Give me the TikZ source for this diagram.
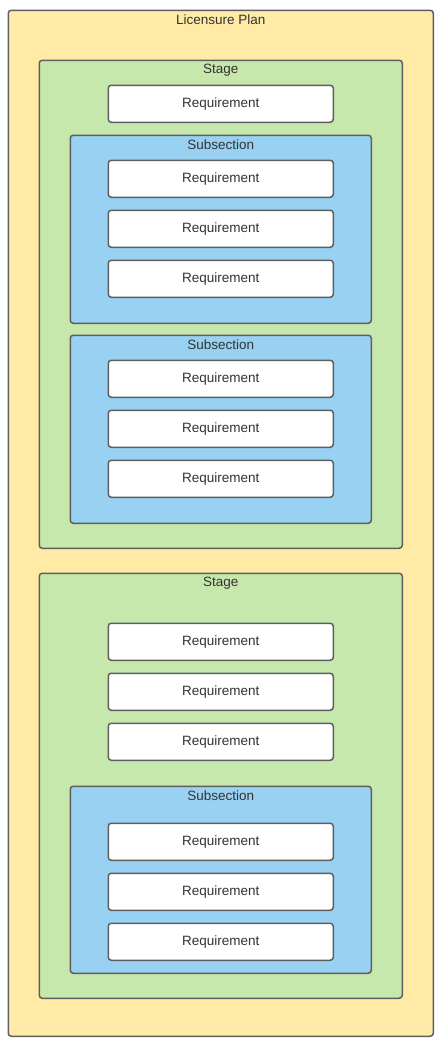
\documentclass[tikz,border=0pt]{standalone}
\usepackage{fontspec}
\setmainfont{Liberation Sans}
\definecolor{planfill}{HTML}{FFEBA6}
\definecolor{stagefill}{HTML}{C7E8AC}
\definecolor{subfill}{HTML}{99D1F2}
\definecolor{edge}{HTML}{5E5E5E}
\definecolor{txt}{HTML}{333333}
\tikzset{
  box/.style={draw=edge, line width=1.5pt, rounded corners=3pt, anchor=north west, inner sep=0pt},
  planbox/.style={box, fill=planfill},
  stagebox/.style={box, fill=stagefill},
  subbox/.style={box, fill=subfill},
  reqbox/.style={box, fill=white, minimum width=225pt, minimum height=37pt, text=txt, font=\fontsize{13.5}{16}\selectfont},
  lbl/.style={text=txt, font=\fontsize{13.5}{16}\selectfont, inner sep=0pt, anchor=center}
}
\begin{document}
\begin{tikzpicture}[x=1pt,y=-1pt]
\useasboundingbox (0,0) rectangle (439,1045);
% plan
\node[planbox, minimum width=425pt, minimum height=1026pt] (plan) at (7.5,9.5) {};
\node[lbl] (planlbl) at ([yshift=-10pt]plan.north) {Licensure Plan};
% stage 1
\node[stagebox, minimum width=363pt, minimum height=488pt] (st1) at (38.5,59.5) {};
\node[lbl] (st1lbl) at ([yshift=-10.5pt]st1.north) {Stage};
\node[reqbox] (r1) at (107.5,84.5) {Requirement};
\node[subbox, minimum width=301pt, minimum height=188pt] (sub1) at (69.5,134.5) {};
\node[lbl] (sub1lbl) at ([yshift=-10pt]sub1.north) {Subsection};
\node[reqbox] (r2) at (107.5,159.5) {Requirement};
\node[reqbox] (r3) at (107.5,209.5) {Requirement};
\node[reqbox] (r4) at (107.5,259.5) {Requirement};
\node[subbox, minimum width=301pt, minimum height=188pt] (sub2) at (69.5,334.5) {};
\node[lbl] (sub2lbl) at ([yshift=-10pt]sub2.north) {Subsection};
\node[reqbox] (r5) at (107.5,359.5) {Requirement};
\node[reqbox] (r6) at (107.5,409.5) {Requirement};
\node[reqbox] (r7) at (107.5,459.5) {Requirement};
% stage 2
\node[stagebox, minimum width=363pt, minimum height=425pt] (st2) at (38.5,572.5) {};
\node[lbl] (st2lbl) at ([yshift=-10.5pt]st2.north) {Stage};
\node[reqbox] (r8) at (107.5,622.5) {Requirement};
\node[reqbox] (r9) at (107.5,672.5) {Requirement};
\node[reqbox] (r10) at (107.5,722.5) {Requirement};
\node[subbox, minimum width=301pt, minimum height=187pt] (sub3) at (69.5,785.5) {};
\node[lbl] (sub3lbl) at ([yshift=-10pt]sub3.north) {Subsection};
\node[reqbox] (r11) at (107.5,822.5) {Requirement};
\node[reqbox] (r12) at (107.5,872.5) {Requirement};
\node[reqbox] (r13) at (107.5,922.5) {Requirement};
\end{tikzpicture}
\end{document}
